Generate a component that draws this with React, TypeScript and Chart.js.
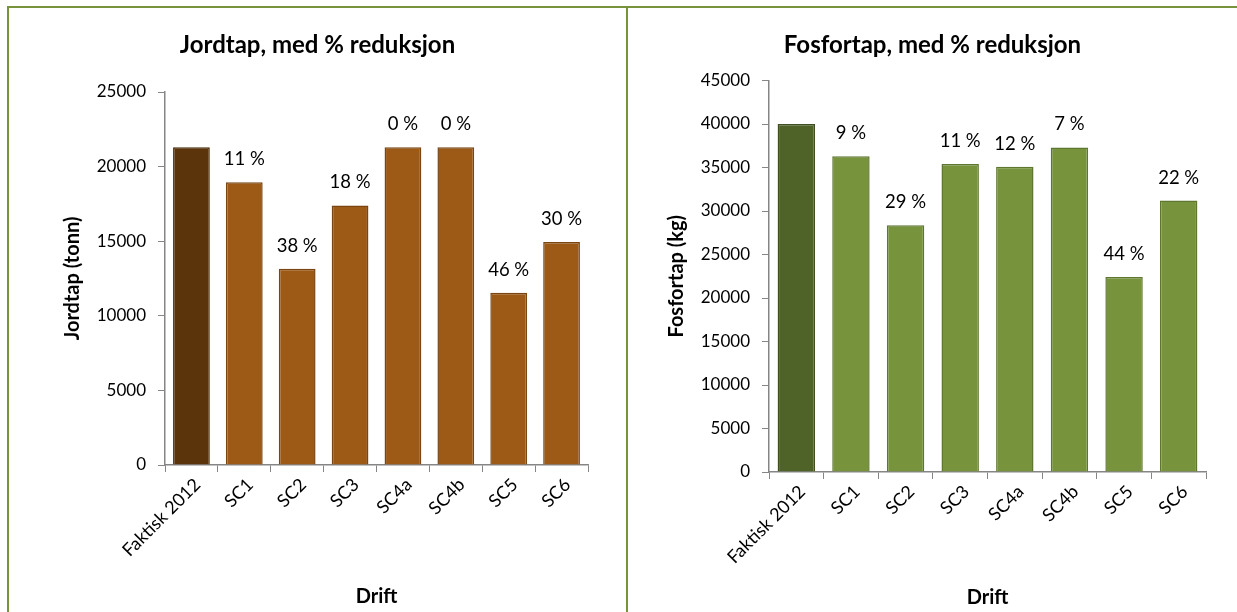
import React, { useEffect, useRef } from "react";
import { Chart, registerables } from "chart.js";

Chart.register(...registerables);

const categories = ["Faktisk 2012", "SC1", "SC2", "SC3", "SC4a", "SC4b", "SC5", "SC6"];

const jordtapValues = [21300, 18950, 13150, 17400, 21300, 21300, 11550, 14950];
const jordtapLabels = ["", "11 %", "38 %", "18 %", "0 %", "0 %", "46 %", "30 %"];

const fosforValues = [40000, 36300, 28350, 35400, 35100, 37300, 22400, 31200];
const fosforLabels = ["", "9 %", "29 %", "11 %", "12 %", "7 %", "44 %", "22 %"];

const FONT = "Lato, 'Open Sans', sans-serif";
const FRAME = "#77933C";
const AXIS = "#868686";
const TITLE_SIZE = 24;
const AXIS_TITLE_SIZE = 20;

const barLabelPlugin = {
  id: "barLabels",
  afterDatasetsDraw(chart: any, _args: any, opts: any) {
    const { ctx } = chart;
    const meta = chart.getDatasetMeta(0);
    const labels: string[] = opts.labels || [];
    ctx.save();
    ctx.font = `${opts.size}px ${FONT}`;
    ctx.fillStyle = "#000";
    ctx.textAlign = "center";
    ctx.textBaseline = "middle";
    meta.data.forEach((el: any, i: number) => {
      if (labels[i]) ctx.fillText(labels[i], el.x, el.y - opts.offset);
    });
    ctx.restore();
  },
};

type PanelProps = {
  title: string;
  yTitle: string;
  values: number[];
  labels: string[];
  max: number;
  colors: string[];
  borders: string[];
  width: number;
  height: number;
  yWidth: number;
  xHeight: number;
  sidePad: number;
  titleCenter: number;
  plotTop: number;
  yTitleCenter: number;
  xTitleOffset: number;
  barPct: number;
};

function Panel(p: PanelProps) {
  const ref = useRef<HTMLCanvasElement | null>(null);
  useEffect(() => {
    if (!ref.current) return;
    const tLine = TITLE_SIZE * 1.2;
    const aLine = AXIS_TITLE_SIZE * 1.2;
    const titleTop = p.titleCenter - tLine / 2;
    const titleBottom = p.plotTop - titleTop - tLine;
    const chart = new Chart(ref.current, {
      type: "bar",
      data: {
        labels: categories,
        datasets: [
          {
            data: p.values,
            backgroundColor: p.colors,
            borderColor: p.borders,
            borderWidth: 1.5,
            categoryPercentage: 1,
            barPercentage: p.barPct,
          },
        ],
      },
      plugins: [barLabelPlugin],
      options: {
        responsive: false,
        animation: false,
        layout: { padding: { left: p.sidePad, right: p.sidePad, top: 0, bottom: 0 } },
        plugins: {
          legend: { display: false },
          tooltip: { enabled: false },
          title: {
            display: true,
            text: p.title,
            color: "#000",
            font: { family: FONT, size: TITLE_SIZE, weight: "bold" },
            padding: { top: titleTop, bottom: titleBottom },
          },
          barLabels: { labels: p.labels, size: 18.5, offset: 23 },
        } as any,
        scales: {
          x: {
            grid: {
              display: true,
              drawOnChartArea: false,
              drawTicks: true,
              tickLength: 7,
              color: AXIS,
              offset: true,
            },
            border: { display: true, color: AXIS, width: 1.5 },
            ticks: {
              color: "#000",
              font: { family: FONT, size: 18 },
              maxRotation: 45,
              minRotation: 45,
              padding: 2,
              labelOffset: 6,
            },
            title: {
              display: true,
              text: "Drift",
              color: "#000",
              font: { family: FONT, size: AXIS_TITLE_SIZE, weight: "bold" },
              padding: { top: 0, bottom: p.xTitleOffset - aLine / 2 },
            },
            afterFit: (s: any) => {
              s.height = p.xHeight;
            },
          },
          y: {
            min: 0,
            max: p.max,
            ticks: {
              stepSize: 5000,
              color: "#000",
              font: { family: FONT, size: 17 },
              padding: 12,
              callback: (v: any) => String(v),
            },
            grid: {
              display: true,
              drawOnChartArea: false,
              drawTicks: true,
              tickLength: 7,
              color: AXIS,
            },
            border: { display: true, color: AXIS, width: 1.5 },
            title: {
              display: true,
              text: p.yTitle,
              color: "#000",
              font: { family: FONT, size: AXIS_TITLE_SIZE, weight: "bold" },
              padding: { top: p.yTitleCenter - p.sidePad - aLine / 2, bottom: 0 },
            },
            afterFit: (s: any) => {
              s.width = p.yWidth - p.sidePad;
            },
          },
        },
      } as any,
    });
    return () => chart.destroy();
  }, []);
  return <canvas ref={ref} width={p.width} height={p.height} style={{ display: "block" }} />;
}

export default function App() {
  return (
    <div
      style={{
        position: "fixed",
        left: 0,
        top: 0,
        width: 1237,
        height: 612,
        background: "#fff",
        overflow: "hidden",
      }}
    >
      <div
        style={{
          position: "absolute",
          left: 7,
          top: 6,
          width: 621,
          height: 700,
          border: `2px solid ${FRAME}`,
          boxSizing: "border-box",
        }}
      />
      <div
        style={{
          position: "absolute",
          left: 626,
          top: 6,
          width: 700,
          height: 700,
          border: `2px solid ${FRAME}`,
          boxSizing: "border-box",
        }}
      />
      <div style={{ position: "absolute", left: 9, top: 8 }}>
        <Panel
          title="Jordtap, med % reduksjon"
          yTitle="Jordtap (tonn)"
          values={jordtapValues}
          labels={jordtapLabels}
          max={25000}
          colors={["#5C340B", "#9C5A16", "#9C5A16", "#9C5A16", "#9C5A16", "#9C5A16", "#9C5A16", "#9C5A16"]}
          borders={["#4A2A08", "#7A4511", "#7A4511", "#7A4511", "#7A4511", "#7A4511", "#7A4511", "#7A4511"]}
          width={617}
          height={604}
          yWidth={156}
          xHeight={147}
          sidePad={38}
          titleCenter={37}
          plotTop={84}
          yTitleCenter={63.5}
          xTitleOffset={15}
          barPct={0.695}
        />
      </div>
      <div style={{ position: "absolute", left: 628, top: 8 }}>
        <Panel
          title="Fosfortap, med % reduksjon"
          yTitle="Fosfortap (kg)"
          values={fosforValues}
          labels={fosforLabels}
          max={45000}
          colors={["#4F6228", "#77933C", "#77933C", "#77933C", "#77933C", "#77933C", "#77933C", "#77933C"]}
          borders={["#3F4F20", "#5E772E", "#5E772E", "#5E772E", "#5E772E", "#5E772E", "#5E772E", "#5E772E"]}
          width={609}
          height={604}
          yWidth={141}
          xHeight={140}
          sidePad={31}
          titleCenter={37}
          plotTop={72.5}
          yTitleCenter={48.5}
          xTitleOffset={14}
          barPct={0.685}
        />
      </div>
    </div>
  );
}
